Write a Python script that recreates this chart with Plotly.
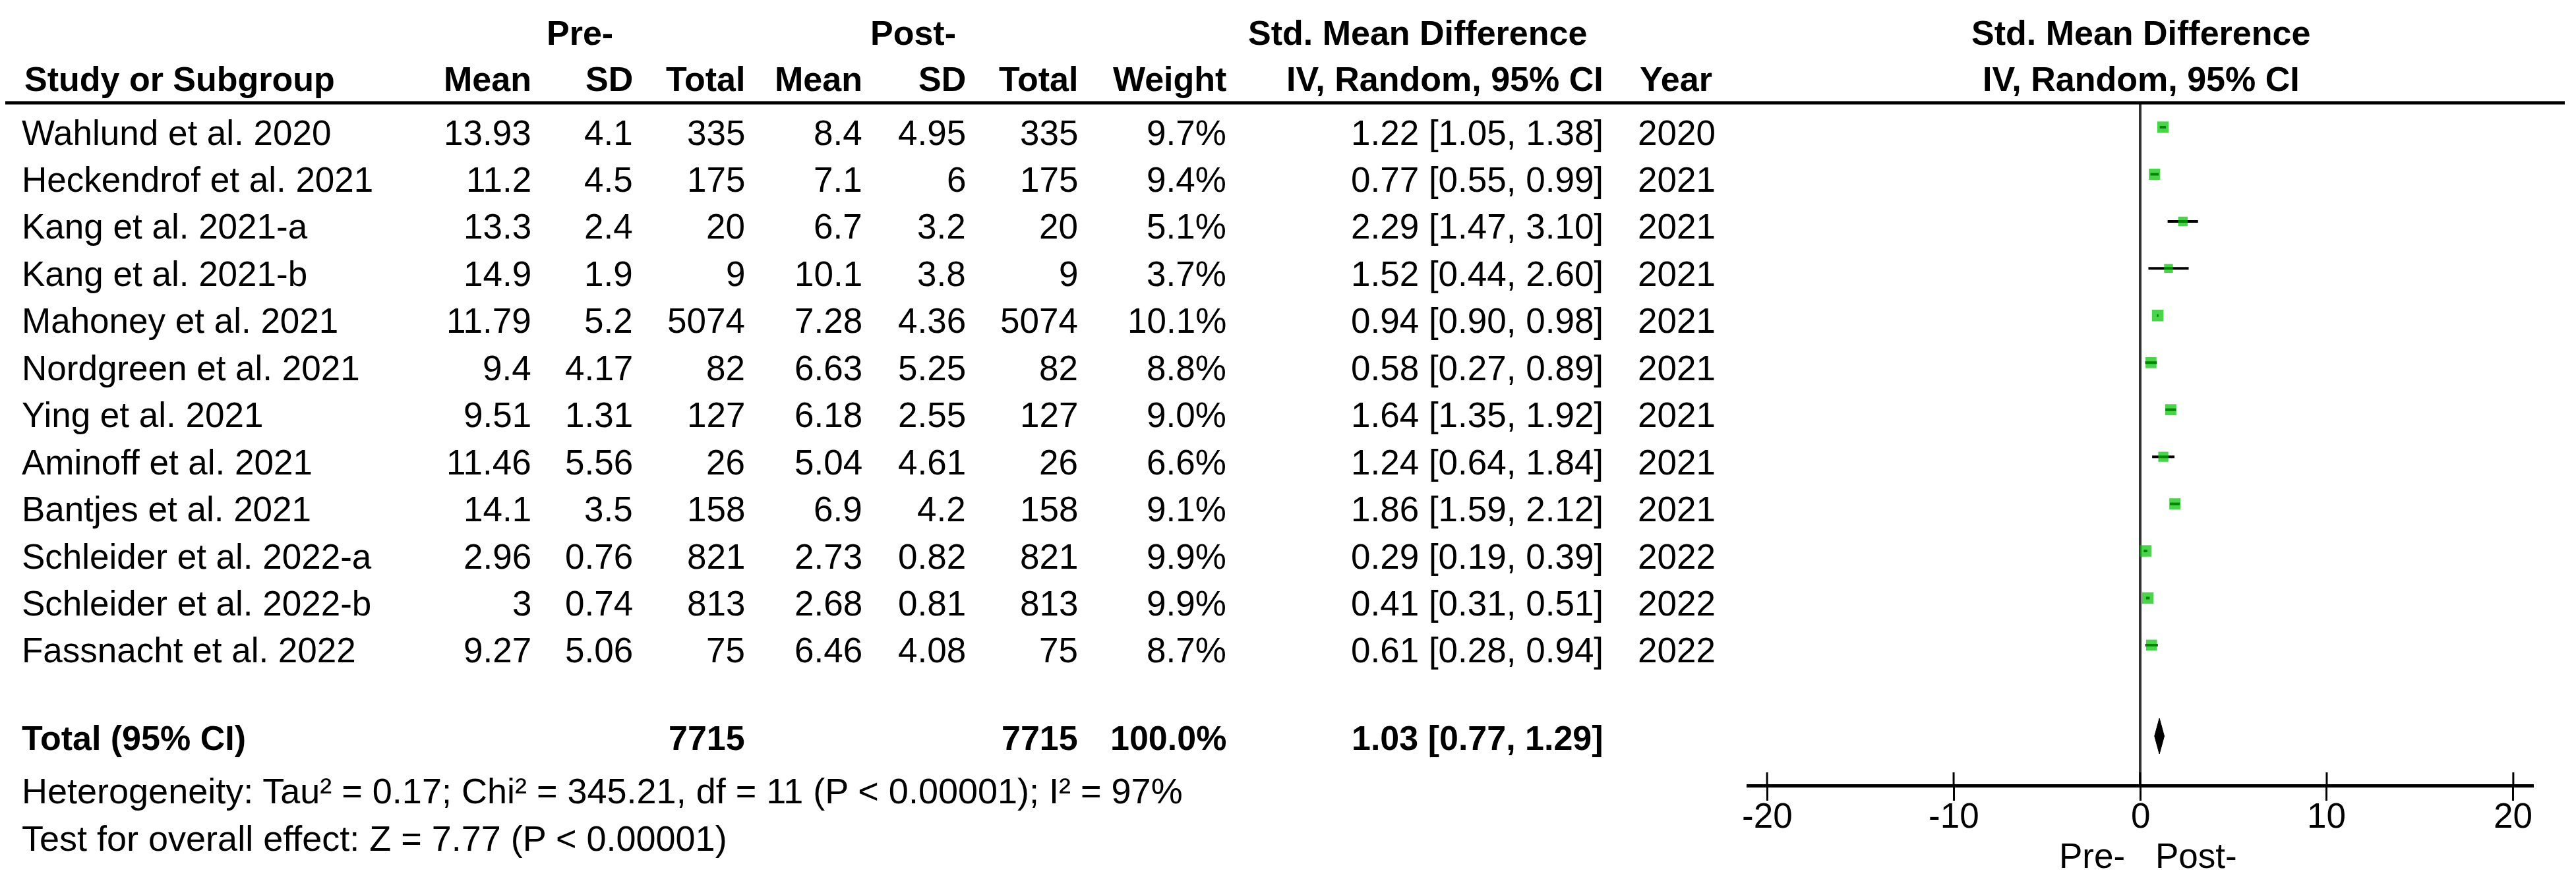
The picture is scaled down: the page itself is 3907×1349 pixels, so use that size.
import plotly.graph_objects as go

# ---------------- data ----------------
studies = ["Wahlund et al. 2020", "Heckendrof et al. 2021", "Kang et al. 2021-a", "Kang et al. 2021-b",
           "Mahoney et al. 2021", "Nordgreen et al. 2021", "Ying et al. 2021", "Aminoff et al. 2021",
           "Bantjes et al. 2021", "Schleider et al. 2022-a", "Schleider et al. 2022-b", "Fassnacht et al. 2022"]
pre_mean = [13.93, 11.2, 13.3, 14.9, 11.79, 9.4, 9.51, 11.46, 14.1, 2.96, 3, 9.27]
pre_sd = [4.1, 4.5, 2.4, 1.9, 5.2, 4.17, 1.31, 5.56, 3.5, 0.76, 0.74, 5.06]
pre_n = [335, 175, 20, 9, 5074, 82, 127, 26, 158, 821, 813, 75]
post_mean = [8.4, 7.1, 6.7, 10.1, 7.28, 6.63, 6.18, 5.04, 6.9, 2.73, 2.68, 6.46]
post_sd = [4.95, 6, 3.2, 3.8, 4.36, 5.25, 2.55, 4.61, 4.2, 0.82, 0.81, 4.08]
post_n = [335, 175, 20, 9, 5074, 82, 127, 26, 158, 821, 813, 75]
weights = [9.7, 9.4, 5.1, 3.7, 10.1, 8.8, 9.0, 6.6, 9.1, 9.9, 9.9, 8.7]
smd = [1.22, 0.77, 2.29, 1.52, 0.94, 0.58, 1.64, 1.24, 1.86, 0.29, 0.41, 0.61]
ci_lo = [1.05, 0.55, 1.47, 0.44, 0.90, 0.27, 1.35, 0.64, 1.59, 0.19, 0.31, 0.28]
ci_hi = [1.38, 0.99, 3.10, 2.60, 0.98, 0.89, 1.92, 1.84, 2.12, 0.39, 0.51, 0.94]
years = [2020, 2021, 2021, 2021, 2021, 2021, 2021, 2021, 2021, 2022, 2022, 2022]

total_pre_n = 7715
total_post_n = 7715
total_weight = 100.0
pooled_smd = 1.03
pooled_lo = 0.77
pooled_hi = 1.29
heterogeneity_text = "Heterogeneity: Tau² = 0.17; Chi² = 345.21, df = 11 (P &lt; 0.00001); I² = 97%"
overall_text = "Test for overall effect: Z = 7.77 (P &lt; 0.00001)"
tick_vals = [-20, -10, 0, 10, 20]
favours = ["Pre-", "Post-"]

# ---------------- layout helpers ----------------
W, H = 3907, 1349          # browser window
OFF = 8                    # default body margin of the html page
FW, FH = W - 2 * OFF, H - 2 * OFF
ROW0, ROWH = 193.0, 71.45  # page-pixel centre of first marker row, row pitch


def row_of(px):
    return (px - ROW0) / ROWH


def xp(px):
    return (px - OFF) / FW


FONT = "Arial, 'Liberation Sans', sans-serif"
FS = 53      # regular text
FSB = 52     # bold text
FSL = 54     # bottom statistics lines
TXT_SHIFT = -8

fig = go.Figure()

rows = list(range(len(studies)))

# confidence interval whiskers (drawn first, under the squares)
ci_x, ci_y = [], []
for r, lo, hi in zip(rows, ci_lo, ci_hi):
    ci_x += [lo, hi, None]
    ci_y += [r, r, None]
fig.add_trace(go.Scatter(
    x=ci_x, y=ci_y, mode="lines", xaxis="x2", yaxis="y",
    line=dict(color="black", width=4), hoverinfo="skip", showlegend=False))

# study squares
fig.add_trace(go.Scatter(
    x=smd, y=rows, mode="markers", xaxis="x2", yaxis="y",
    marker=dict(symbol="square", color="rgb(0,192,0)",
                size=[11 + 0.65 * w for w in weights], line=dict(width=0)),
    hoverinfo="skip", showlegend=False))

# pooled diamond
r_tot = row_of(1117)
hh = 27 / ROWH
fig.add_trace(go.Scatter(
    x=[pooled_lo, pooled_smd, pooled_hi, pooled_smd, pooled_lo],
    y=[r_tot, r_tot - hh, r_tot, r_tot + hh, r_tot],
    xaxis="x2", yaxis="y", mode="lines", fill="toself",
    fillcolor="black", line=dict(color="black", width=1),
    hoverinfo="skip", showlegend=False))

shapes = []
shapes.append(dict(type="line", xref="paper", yref="y", x0=0, x1=xp(3890),
                   y0=row_of(156), y1=row_of(156), line=dict(color="black", width=5)))
shapes.append(dict(type="line", xref="x2", yref="y", x0=0, x1=0, layer="below",
                   y0=row_of(156), y1=row_of(1192), line=dict(color="#333333", width=4)))
for t in tick_vals:
    shapes.append(dict(type="line", xref="x2", yref="y", x0=t, x1=t,
                       y0=row_of(1172), y1=row_of(1192), line=dict(color="black", width=3)))

ann = []


def txt(x_px, y_row, s, anchor="right", bold=False, yshift=TXT_SHIFT, size=None, xref="paper"):
    if size is None:
        size = FSB if bold else FS
    ann.append(dict(x=(xp(x_px) if xref == "paper" else x_px), y=y_row, xref=xref, yref="y",
                    text=(f"<b>{s}</b>" if bold else s),
                    showarrow=False, xanchor=anchor, yanchor="middle", yshift=yshift,
                    font=dict(family=FONT, size=size, color="black")))


C_NAME, C_M1, C_SD1, C_N1, C_M2, C_SD2, C_N2, C_W, C_CI, C_YR = 31, 808, 962, 1132, 1310, 1467, 1637, 1862, 2434, 2482
C_FOREST = 3247

y_h1 = row_of(50)
txt(879, y_h1, "Pre-", anchor="center", bold=True, yshift=0)
txt(1385, y_h1, "Post-", anchor="center", bold=True, yshift=0)
txt(2150, y_h1, "Std. Mean Difference", anchor="center", bold=True, yshift=0)
txt(C_FOREST, y_h1, "Std. Mean Difference", anchor="center", bold=True, yshift=0)
y_h2 = row_of(120)
txt(C_NAME + 4, y_h2, "Study or Subgroup", anchor="left", bold=True, yshift=0)
for cx, lab in [(C_M1, "Mean"), (C_SD1, "SD"), (C_N1, "Total"), (C_M2, "Mean"), (C_SD2, "SD"),
                (C_N2, "Total"), (C_W, "Weight"), (C_CI, "IV, Random, 95% CI")]:
    txt(cx, y_h2, lab, bold=True, yshift=0)
txt(C_YR + 3, y_h2, "Year", anchor="left", bold=True, yshift=0)
txt(C_FOREST, y_h2, "IV, Random, 95% CI", anchor="center", bold=True, yshift=0)


def g(v):
    return f"{v:g}"


for i in rows:
    txt(C_NAME, i, studies[i], anchor="left")
    txt(C_M1, i, g(pre_mean[i]))
    txt(C_SD1, i, g(pre_sd[i]))
    txt(C_N1, i, str(pre_n[i]))
    txt(C_M2, i, g(post_mean[i]))
    txt(C_SD2, i, g(post_sd[i]))
    txt(C_N2, i, str(post_n[i]))
    txt(C_W, i, f"{weights[i]:.1f}%")
    txt(C_CI, i, f"{smd[i]:.2f} [{ci_lo[i]:.2f}, {ci_hi[i]:.2f}]")
    txt(C_YR, i, str(years[i]), anchor="left")

y_t = row_of(1120)
txt(C_NAME, y_t, "Total (95% CI)", anchor="left", bold=True, yshift=0)
txt(C_N1, y_t, str(total_pre_n), bold=True, yshift=0)
txt(C_N2, y_t, str(total_post_n), bold=True, yshift=0)
txt(C_W, y_t, f"{total_weight:.1f}%", bold=True, yshift=0)
txt(C_CI, y_t, f"{pooled_smd:.2f} [{pooled_lo:.2f}, {pooled_hi:.2f}]", bold=True, yshift=0)

txt(C_NAME, row_of(1200), heterogeneity_text, anchor="left", yshift=0, size=FSL)
txt(C_NAME, row_of(1272), overall_text, anchor="left", yshift=0, size=FSL)

# axis tick labels
for t in tick_vals:
    txt(t, row_of(1237), str(t), anchor="center", yshift=0, xref="x2")

txt(3173, row_of(1298), favours[0], anchor="center", yshift=0)
txt(3331, row_of(1298), favours[1], anchor="center", yshift=0)

fig.update_layout(
    width=FW, height=FH, margin=dict(l=0, r=0, t=0, b=0),
    paper_bgcolor="white", plot_bgcolor="white",
    font=dict(family=FONT, size=FS, color="black"),
    showlegend=False,
    xaxis2=dict(domain=[xp(2649), xp(3843)], range=[-21.1, 21.1], anchor="free",
                position=(OFF + FH - 1192) / FH, side="bottom",
                showline=True, linecolor="black", linewidth=5,
                ticks="outside", ticklen=20, tickwidth=3, tickcolor="black",
                tickvals=tick_vals, showticklabels=False,
                showgrid=False, zeroline=False, fixedrange=True),
    yaxis=dict(domain=[0, 1], range=[row_of(OFF + FH), row_of(OFF)], visible=False,
               anchor="free", position=0, showgrid=False, zeroline=False, fixedrange=True),
    shapes=shapes, annotations=ann,
)

fig.write_html("out.html", config={"displayModeBar": False})
